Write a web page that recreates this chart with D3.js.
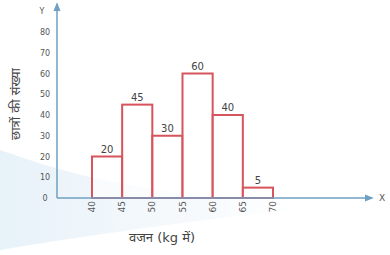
<!DOCTYPE html>
<html>
<head>
<meta charset="utf-8">
<script src="https://cdn.jsdelivr.net/npm/d3@7"></script>
<style>
  body { margin: 0; background: #fff; }
  text { font-family: "DejaVu Sans", "Noto Sans", sans-serif; }
</style>
</head>
<body>
<div id="graf"></div>
<script>
// Datos del histograma
const lowerBounds = [40, 45, 50, 55, 60, 65]
const upperBounds = [45, 50, 55, 60, 65, 70]
const counts = [20, 45, 30, 60, 40, 5]
const xTicks = [40, 45, 50, 55, 60, 65, 70]
const yTicks = [0, 10, 20, 30, 40, 50, 60, 70, 80]
const xTitle = "वजन (kg में)"
const yTitle = "छात्रों की संख्या"

const width = 390
const height = 255
const axisColor = "#6f9fc2"
const barColor = "#d6545c"
const textColor = "#555"

const svg = d3.select("#graf")
  .append("svg")
  .attr("width", width)
  .attr("height", height)

// Fondo suave
const defs = svg.append("defs")
const grad = defs.append("linearGradient")
  .attr("id", "wash")
  .attr("x1", "0").attr("y1", "0").attr("x2", "1").attr("y2", "0")
grad.append("stop").attr("offset", "0%").attr("stop-color", "#e4f0f8").attr("stop-opacity", 0.9)
grad.append("stop").attr("offset", "60%").attr("stop-color", "#eef5fa").attr("stop-opacity", 0.5)
grad.append("stop").attr("offset", "100%").attr("stop-color", "#ffffff").attr("stop-opacity", 0)

svg.append("path")
  .attr("d", "M0,150 C60,170 120,195 340,205 C240,215 120,230 0,250 Z")
  .attr("fill", "url(#wash)")

// Escaladores
const x = d3.scaleLinear().domain([40, 70]).range([92, 273])
const y = d3.scaleLinear().domain([0, 80]).range([198, 32])
const originX = 57

// Barras
svg.selectAll(".bar")
  .data(counts)
  .enter()
  .append("rect")
  .attr("class", "bar")
  .attr("x", (d, i) => x(lowerBounds[i]))
  .attr("width", (d, i) => x(upperBounds[i]) - x(lowerBounds[i]))
  .attr("y", (d) => y(d))
  .attr("height", (d) => y(0) - y(d))
  .attr("fill", "#fff")
  .attr("fill-opacity", 0.6)
  .attr("stroke", barColor)
  .attr("stroke-width", 2)

// Etiquetas de valores
svg.selectAll(".val")
  .data(counts)
  .enter()
  .append("text")
  .attr("class", "val")
  .attr("x", (d, i) => (x(lowerBounds[i]) + x(upperBounds[i])) / 2)
  .attr("y", (d) => y(d) - 4)
  .attr("text-anchor", "middle")
  .attr("font-size", 10)
  .attr("fill", "#444")
  .text((d) => d)

// Ejes con flechas
defs.append("marker")
  .attr("id", "arrow")
  .attr("viewBox", "0 0 10 10")
  .attr("refX", 8).attr("refY", 5)
  .attr("markerWidth", 6).attr("markerHeight", 6)
  .attr("orient", "auto")
  .append("path")
  .attr("d", "M0,1 L10,5 L0,9 Z")
  .attr("fill", axisColor)

svg.append("line")
  .attr("x1", originX).attr("y1", y(0))
  .attr("x2", 372).attr("y2", y(0))
  .attr("stroke", axisColor)
  .attr("stroke-width", 1.5)
  .attr("marker-end", "url(#arrow)")

svg.append("line")
  .attr("x1", originX).attr("y1", y(0))
  .attr("x2", originX).attr("y2", 4)
  .attr("stroke", axisColor)
  .attr("stroke-width", 1.5)
  .attr("marker-end", "url(#arrow)")

// Etiquetas eje Y
svg.selectAll(".ytick")
  .data(yTicks)
  .enter()
  .append("text")
  .attr("class", "ytick")
  .attr("x", 45)
  .attr("y", (d) => y(d) + 3)
  .attr("text-anchor", "middle")
  .attr("font-size", 8)
  .attr("fill", textColor)
  .text((d) => d)

// Etiquetas eje X (rotadas)
svg.selectAll(".xtick")
  .data(xTicks)
  .enter()
  .append("text")
  .attr("class", "xtick")
  .attr("transform", (d) => `translate(${x(d) + 3}, ${y(0) + 3}) rotate(-90)`)
  .attr("text-anchor", "end")
  .attr("font-size", 9)
  .attr("fill", textColor)
  .text((d) => d)

svg.append("text")
  .attr("x", 42).attr("y", 14)
  .attr("text-anchor", "middle")
  .attr("font-size", 8)
  .attr("fill", textColor)
  .text("Y")

svg.append("text")
  .attr("x", 382).attr("y", y(0) + 3)
  .attr("text-anchor", "middle")
  .attr("font-size", 9)
  .attr("fill", textColor)
  .text("X")

// Títulos
svg.append("text")
  .attr("x", 162).attr("y", 242)
  .attr("text-anchor", "middle")
  .attr("font-size", 13)
  .attr("fill", "#444")
  .text(xTitle)

svg.append("text")
  .attr("transform", "translate(20, 104) rotate(-90)")
  .attr("text-anchor", "middle")
  .attr("font-size", 13)
  .attr("fill", "#444")
  .text(yTitle)
</script>
</body>
</html>
